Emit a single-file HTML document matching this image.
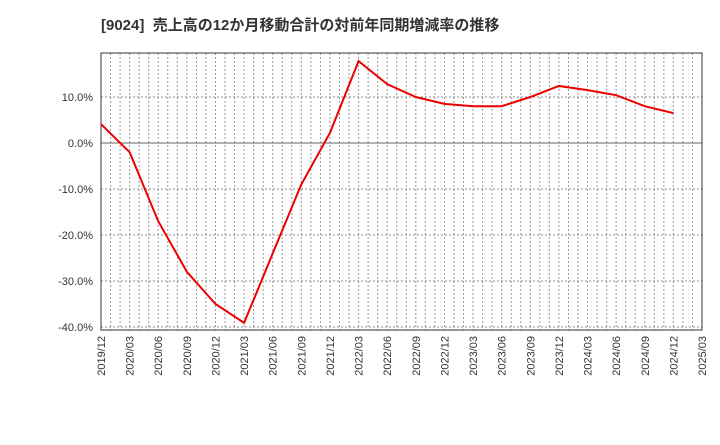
<!DOCTYPE html>
<html><head><meta charset="utf-8"><style>
body{margin:0;background:#fff;font-family:"Liberation Sans","Noto Sans CJK JP",sans-serif}
</style></head><body>
<svg id="c" width="720" height="440" xmlns="http://www.w3.org/2000/svg">
<text x="101" y="30" font-size="15" font-weight="bold" fill="#333" font-family="Liberation Sans,Noto Sans CJK JP,sans-serif">[9024]&#160; 売上高の12か月移動合計の対前年同期増減率の推移</text>
<g id="grid"></g><g id="axes"></g><g id="series"></g>
</svg>
<script>
const categories=["2019/12","2020/03","2020/06","2020/09","2020/12","2021/03","2021/06","2021/09","2021/12","2022/03","2022/06","2022/09","2022/12","2023/03","2023/06","2023/09","2023/12","2024/03","2024/06","2024/09","2024/12"];
const values=[4.1,-2.0,-17,-28,-35,-39.1,-24,-9,2.2,17.8,12.8,10,8.5,8,8,10,12.4,11.5,10.4,8,6.5];
const xTickLabels=["2019/12","2020/03","2020/06","2020/09","2020/12","2021/03","2021/06","2021/09","2021/12","2022/03","2022/06","2022/09","2022/12","2023/03","2023/06","2023/09","2023/12","2024/03","2024/06","2024/09","2024/12","2025/03"];
const yTicks=[10,0,-10,-20,-30,-40];
const L=101,R=702,T=53,B=330;
const x=i=>L+(R-L)*i/21;
const y=v=>143-v*4.6;
const NS="http://www.w3.org/2000/svg";
function mk(p,t,a){const e=document.createElementNS(NS,t);for(const k in a)e.setAttribute(k,a[k]);p.appendChild(e);return e;}
const g=document.getElementById('grid'),ax=document.getElementById('axes'),se=document.getElementById('series');
for(let m=1;m<63;m++){const xx=L+(R-L)*m/63;
const l=mk(g,'line',{x1:xx,x2:xx,y1:T,y2:B,stroke:'#999','stroke-dasharray':'2,2','stroke-width':1});

}
yTicks.forEach(v=>{const yy=y(v);
const l=mk(g,'line',{x1:L,x2:R,y1:yy,y2:yy,stroke:v===0?'#666':'#888','stroke-dasharray':v===0?'':'2,2','stroke-width':1});


const t=mk(ax,'text',{x:L-8,y:yy+4,'text-anchor':'end','font-size':11,fill:'#333'});t.textContent=v.toFixed(1)+'%';

});
xTickLabels.forEach((s,i)=>{const xx=x(i);
const t=mk(ax,'text',{x:xx+4,y:B+6,'text-anchor':'end','font-size':11,fill:'#333',transform:`rotate(-90 ${xx+4} ${B+6})`});t.textContent=s;

});
const fr=mk(ax,'rect',{x:L,y:T,width:R-L,height:B-T,fill:'none',stroke:'#333','stroke-width':1});


const pl=mk(se,'polyline',{points:values.map((v,i)=>x(i)+','+y(v)).join(' '),fill:'none',stroke:'#e00','stroke-width':2});


</script>
</body></html>
